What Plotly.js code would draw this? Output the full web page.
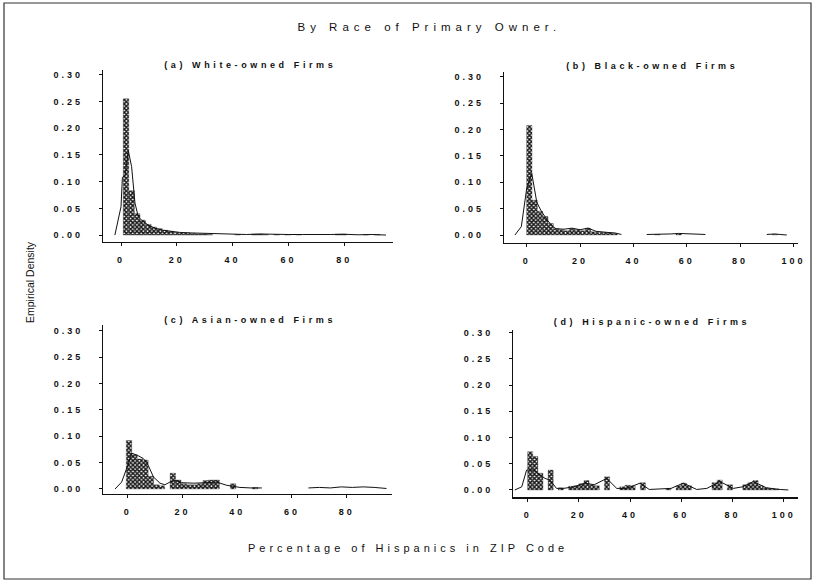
<!DOCTYPE html>
<html>
<head>
<meta charset="utf-8">
<script src="https://cdn.plot.ly/plotly-3.0.1.min.js"></script>
<style>
  html, body { margin: 0; padding: 0; background: #fff; }
  #chart { width: 815px; height: 582px; }
  /* spaced-out lettering of the typeset figure */
  #chart g.xtick text, #chart g.ytick text,
  #chart g.x2tick text, #chart g.y2tick text,
  #chart g.x3tick text, #chart g.y3tick text,
  #chart g.x4tick text, #chart g.y4tick text { letter-spacing: 3px; }
  #chart g.annotation[data-index="0"] text { letter-spacing: 5px; }
  #chart g.annotation[data-index="1"] text { letter-spacing: 4px; }
  #chart g.annotation[data-index="3"] text,
  #chart g.annotation[data-index="4"] text,
  #chart g.annotation[data-index="5"] text,
  #chart g.annotation[data-index="6"] text { letter-spacing: 3.6px; }
</style>
</head>
<body>
<div id="chart"></div>
<script>
// Histogram bins (centre of each 2-point bin) and empirical densities
const whiteBinX = [1.8, 3.8, 5.8, 7.8, 9.8, 11.8, 13.8, 15.8, 17.8, 19.8, 21.8, 23.8, 25.8, 27.8, 29.8, 31.8, 41.8, 47.8, 49.8, 51.8, 55.8, 59.8, 63.8, 77.8, 79.8, 87.8, 91.8];
const whiteBinY = [0.255, 0.083, 0.040, 0.028, 0.020, 0.015, 0.012, 0.009, 0.007, 0.005, 0.004, 0.004, 0.003, 0.002, 0.002, 0.001, 0.001, 0.002, 0.002, 0.001, 0.001, 0.001, 0.001, 0.002, 0.002, 0.001, 0.001];
const whiteDensX = [-2.2, 0, 0.5, 1.5, 2.6, 3.8, 5, 6.2, 8, 10, 12, 15, 18, 21, 25, 30, 35, 40, 45, 50, 55, 60, 65, 70, 75, 80, 85, 90, 95];
const whiteDensY = [0, 0.053, 0.108, 0.112, 0.158, 0.128, 0.060, 0.034, 0.025, 0.018, 0.013, 0.009, 0.007, 0.005, 0.004, 0.003, 0.002, 0.001, 0.001, 0.002, 0.001, 0.001, 0.001, 0.0005, 0.001, 0.0015, 0.0005, 0.001, 0];

const blackBinX = [1, 3, 5, 7, 9, 11, 13, 15, 17, 19, 21, 23, 25, 27, 29, 31, 33, 49, 57, 93];
const blackBinY = [0.208, 0.066, 0.045, 0.035, 0.022, 0.012, 0.010, 0.008, 0.012, 0.010, 0.008, 0.013, 0.006, 0.005, 0.005, 0.004, 0.003, 0.001, 0.002, 0.001];
const blackDensX = [-4.4, -2, 0, 1.9, 3.8, 5.5, 7.5, 9.5, 11, 14, 17, 20, 23, 26, 30, 33, 35.5, null, 45, 50, 54, 57, 60, 64, 67, null, 90, 93, 95, 97.5];
const blackDensY = [0, 0.016, 0.088, 0.117, 0.062, 0.045, 0.030, 0.017, 0.012, 0.011, 0.013, 0.010, 0.013, 0.007, 0.005, 0.004, 0.001, null, 0.001, 0.001, 0.002, 0.003, 0.002, 0.001, 0.001, null, 0.001, 0.002, 0.001, 0];

const asianBinX = [0.5, 2.5, 4.5, 6.5, 8.5, 10.5, 12.5, 16.5, 18.5, 20.5, 22.5, 24.5, 26.5, 28.5, 30.5, 32.5, 38.5, 46.5];
const asianBinY = [0.092, 0.065, 0.057, 0.055, 0.024, 0.008, 0.006, 0.030, 0.017, 0.010, 0.008, 0.008, 0.010, 0.016, 0.017, 0.017, 0.010, 0.003];
const asianDensX = [-4.6, -2.2, 0, 1.5, 3.5, 5.7, 7.5, 9.4, 11.8, 13.6, 15.4, 17.3, 19.7, 24, 28.9, 32.5, 36.2, 38.6, 41, 45, 49, null, 66, 70, 74, 78, 82, 86, 90, 94.5];
const asianDensY = [0, 0.013, 0.044, 0.068, 0.064, 0.058, 0.045, 0.023, 0.011, 0.008, 0.013, 0.016, 0.012, 0.011, 0.012, 0.013, 0.007, 0.005, 0.003, 0.002, 0.002, null, 0.002, 0.003, 0.002, 0.004, 0.003, 0.004, 0.003, 0.001];

const hispBinX = [1, 3, 5, 9, 13, 17, 19, 21, 23, 25, 27, 31, 37, 39, 41, 45, 55, 59, 61, 63, 73, 75, 79, 85, 87, 89, 91, 93, 95, 97];
const hispBinY = [0.073, 0.064, 0.032, 0.038, 0.004, 0.007, 0.008, 0.012, 0.018, 0.010, 0.008, 0.025, 0.006, 0.009, 0.008, 0.014, 0.003, 0.008, 0.013, 0.008, 0.014, 0.019, 0.010, 0.010, 0.014, 0.018, 0.008, 0.004, 0.003, 0.002];
const hispDensX = [-5, -2.3, -0.4, 2.2, 4.8, 6.8, 8.7, 11.3, 14, 18, 22.4, 26, 30.9, 34.8, 38.7, 43.9, 47.5, 51, 56, 60.8, 66, 70, 75.1, 80.3, 84, 88.1, 93.3, 98.6, 101.8];
const hispDensY = [0, 0.006, 0.038, 0.038, 0.029, 0.022, 0.019, 0.003, 0.003, 0.006, 0.013, 0.010, 0.022, 0.003, 0.003, 0.013, 0.001, 0.002, 0.003, 0.013, 0.001, 0.003, 0.016, 0.003, 0.006, 0.016, 0.004, 0.001, 0];

const panelTitles = ['(a) White-owned Firms', '(b) Black-owned Firms', '(c) Asian-owned Firms', '(d) Hispanic-owned Firms'];
const yTicks = [0, 0.05, 0.10, 0.15, 0.20, 0.25, 0.30];
const xTicksShort = [0, 20, 40, 60, 80];
const xTicksLong = [0, 20, 40, 60, 80, 100];

const FONT = 'Liberation Sans, Arial, sans-serif';

function bars(x, y, ax) {
  return {
    type: 'bar', x: x, y: y, xaxis: 'x' + ax, yaxis: 'y' + ax, width: 2,
    marker: {
      color: '#ffffff',
      line: { color: '#2a2a2a', width: 0.3 },
      pattern: { shape: 'x', fgcolor: '#151515', bgcolor: '#ffffff', size: 3, solidity: 0.7 }
    },
    hoverinfo: 'skip', showlegend: false
  };
}
function curve(x, y, ax) {
  return {
    type: 'scatter', mode: 'lines', x: x, y: y, xaxis: 'x' + ax, yaxis: 'y' + ax,
    line: { color: '#111', width: 1 }, connectgaps: false,
    hoverinfo: 'skip', showlegend: false
  };
}

const data = [
  bars(whiteBinX, whiteBinY, ''), curve(whiteDensX, whiteDensY, ''),
  bars(blackBinX, blackBinY, '2'), curve(blackDensX, blackDensY, '2'),
  bars(asianBinX, asianBinY, '3'), curve(asianDensX, asianDensY, '3'),
  bars(hispBinX, hispBinY, '4'), curve(hispDensX, hispDensY, '4')
];

function xAxis(domain, range, ticks, anchor) {
  return {
    domain: domain, range: range, anchor: anchor, tickvals: ticks,
    showgrid: false, zeroline: false, showline: true, linecolor: '#111', linewidth: 1.2,
    ticks: 'outside', ticklen: 3, tickwidth: 1, tickcolor: '#111', ticklabelstandoff: 6,
    tickfont: { family: FONT, size: 9, color: '#111', weight: 'bold' }
  };
}
function yAxis(domain, range, anchor) {
  return {
    domain: domain, range: range, anchor: anchor, tickvals: yTicks, tickformat: '.2f',
    showgrid: false, zeroline: false, showline: true, linecolor: '#111', linewidth: 1.2,
    ticks: 'outside', ticklen: 3, tickwidth: 1, tickcolor: '#111', ticklabelstandoff: 14,
    tickfont: { family: FONT, size: 9, color: '#111', weight: 'bold' }
  };
}

function panelLabel(text, x, y) {
  return { text: text, xref: 'paper', yref: 'paper', x: x, y: y, showarrow: false,
    xanchor: 'center', yanchor: 'middle',
    font: { family: FONT, size: 9, color: '#111', weight: 'bold' } };
}

const layout = {
  width: 815, height: 582,
  margin: { l: 0, r: 0, t: 0, b: 0 },
  paper_bgcolor: '#fff', plot_bgcolor: '#fff',
  bargap: 0,
  xaxis:  xAxis([0.1264, 0.4822], [-6.45, 97.5], xTicksShort, 'y'),
  yaxis:  yAxis([0.5842, 0.8797], [-0.013, 0.309], 'x'),
  xaxis2: xAxis([0.6184, 0.9791], [-8.5, 101.7], xTicksLong, 'y2'),
  yaxis2: yAxis([0.5830, 0.8768], [-0.0146, 0.31], 'x2'),
  xaxis3: xAxis([0.1267, 0.4806], [-8.9, 96.4], xTicksShort, 'y3'),
  yaxis3: yAxis([0.1512, 0.4416], [-0.0095, 0.311], 'x3'),
  xaxis4: xAxis([0.6298, 0.9795], [-5.6, 105.7], xTicksLong, 'y4'),
  yaxis4: yAxis([0.1455, 0.4330], [-0.014, 0.305], 'x4'),
  annotations: [
    { text: 'By Race of Primary Owner.', xref: 'paper', yref: 'paper', x: 430 / 815, y: 1 - 27 / 582,
      showarrow: false, xanchor: 'center', yanchor: 'middle',
      font: { family: FONT, size: 11.5, color: '#111' } },
    { text: 'Percentage of Hispanics in ZIP Code', xref: 'paper', yref: 'paper', x: 408 / 815, y: 1 - 548 / 582,
      showarrow: false, xanchor: 'center', yanchor: 'middle',
      font: { family: FONT, size: 11, color: '#111' } },
    { text: 'Empirical Density', xref: 'paper', yref: 'paper', x: 30 / 815, y: 1 - 282 / 582,
      showarrow: false, xanchor: 'center', yanchor: 'middle', textangle: -90,
      font: { family: FONT, size: 10.5, color: '#111' } },
    panelLabel(panelTitles[0], 250 / 815, 1 - 65 / 582),
    panelLabel(panelTitles[1], 652 / 815, 1 - 66 / 582),
    panelLabel(panelTitles[2], 250 / 815, 1 - 320 / 582),
    panelLabel(panelTitles[3], 652 / 815, 1 - 322 / 582)
  ],
  shapes: [
    { type: 'rect', xref: 'paper', yref: 'paper', x0: 4 / 815, x1: 811 / 815, y0: 1 - 579 / 582, y1: 1 - 3 / 582,
      line: { color: '#333', width: 1.2 } }
  ]
};

Plotly.newPlot('chart', data, layout, { staticPlot: true, displayModeBar: false });
</script>
</body>
</html>
